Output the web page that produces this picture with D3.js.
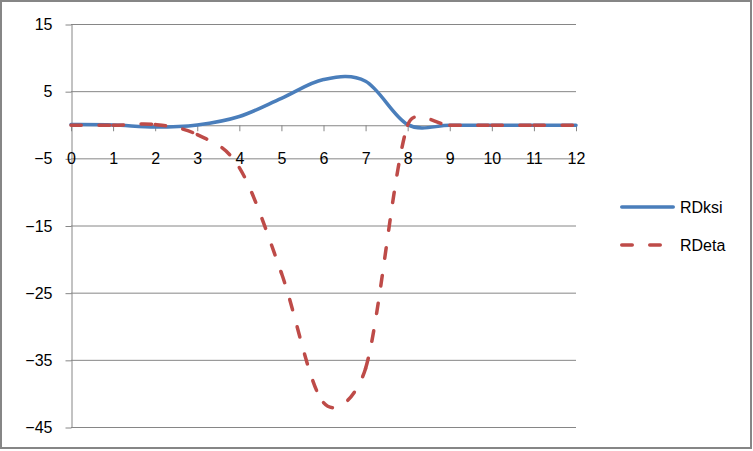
<!DOCTYPE html>
<html><head><meta charset="utf-8">
<script src="https://cdn.jsdelivr.net/npm/d3@7"></script>
<style>
body{margin:0;background:#fff}
svg{display:block}
text{font-family:"Liberation Sans",Arial,sans-serif;font-size:16px;fill:#000}
</style>
</head><body>
<svg id="c" width="753" height="451"></svg>
<script>
const xValues = [0,1,2,3,4,5,6,7,8,9,10,11,12];
const rdksi   = [0.1,0.05,-0.25,0.05,1.3,4.0,6.8,6.55,0.1,0,0,0,0];
const rdeta   = [0,0,0.1,-1.4,-6.3,-22.0,-41.3,-36.2,0,0,0,0,0];
const yTicks  = [15,5,-5,-15,-25,-35,-45];
const xTicks  = [0,1,2,3,4,5,6,7,8,9,10,11,12];
const seriesNames  = ["RDksi","RDeta"];
const seriesColors = ["#4A7EBB","#BE4B48"];

const svg = d3.select("#c");
const grid = "#868686";

// outer border
svg.append("rect").attr("x",1).attr("y",1).attr("width",750).attr("height",447)
  .attr("fill","#fff").attr("stroke",grid).attr("stroke-width",2);

const x = d3.scaleLinear().domain([0,12]).range([71,576]);
const y = d3.scaleLinear().domain([-45,15]).range([427.5,24.5]);

// horizontal gridlines
svg.append("g").selectAll("line").data(yTicks).join("line")
  .attr("x1",71).attr("x2",576)
  .attr("y1",d=>y(d)).attr("y2",d=>y(d))
  .attr("stroke",grid).attr("stroke-width",1);

// y axis
const yAxis = svg.append("g").attr("transform","translate(71.5,0)")
  .call(d3.axisLeft(y).tickValues(yTicks).tickSize(6).tickPadding(13).tickSizeOuter(0));
yAxis.select(".domain").attr("stroke",grid);
yAxis.selectAll(".tick line").attr("stroke",grid);
yAxis.selectAll("text").style("font-family","Liberation Sans, Arial, sans-serif").style("font-size","16px").attr("fill","#000");

// x axis at y = 0
const xAxis = svg.append("g").attr("transform",`translate(0,${y(0)})`)
  .call(d3.axisBottom(x).tickValues(xTicks).tickSize(6).tickPadding(21).tickSizeOuter(0));
xAxis.select(".domain").attr("stroke",grid);
xAxis.selectAll(".tick line").attr("stroke",grid);
xAxis.selectAll("text").style("font-family","Liberation Sans, Arial, sans-serif").style("font-size","16px").attr("fill","#000");

// Excel-like smoothed segments (Bezier per data segment)
function segment(p, i, ctx, move) {
  const p0 = p[Math.max(i-1,0)], p1 = p[i], p2 = p[i+1], p3 = p[Math.min(i+2,p.length-1)];
  const half = Math.hypot(p2[0]-p1[0], p2[1]-p1[1]) / 2;
  let a1 = [(p2[0]-p0[0])/6, (p2[1]-p0[1])/6];
  let a2 = [(p3[0]-p1[0])/6, (p3[1]-p1[1])/6];
  const l1 = Math.hypot(a1[0],a1[1]), l2 = Math.hypot(a2[0],a2[1]);
  if (l1 > half) a1 = a1.map(v => v*half/l1);
  if (l2 > half) a2 = a2.map(v => v*half/l2);
  if (move) ctx.moveTo(p1[0], p1[1]);
  ctx.bezierCurveTo(p1[0]+a1[0], p1[1]+a1[1], p2[0]-a2[0], p2[1]-a2[1], p2[0], p2[1]);
}

const series = [rdksi, rdeta];
series.forEach((vals, s) => {
  const pts = xValues.map((xv,i) => [x(xv), y(vals[i])]);
  const g = svg.append("g");
  if (s === 0) {
    const ctx = d3.path();
    for (let i = 0; i < pts.length-1; i++) segment(pts, i, ctx, i === 0);
    g.append("path").attr("d", ctx.toString()).attr("fill","none")
      .attr("stroke", seriesColors[s]).attr("stroke-width",3.5)
      .attr("stroke-linecap","round").attr("stroke-linejoin","round");
  } else {
    for (let i = 0; i < pts.length-1; i++) {
      const ctx = d3.path();
      segment(pts, i, ctx, true);
      g.append("path").attr("d", ctx.toString()).attr("fill","none")
        .attr("stroke", seriesColors[s]).attr("stroke-width",3.5)
        .attr("stroke-linecap","round").attr("stroke-dasharray","10.5 17.5");
    }
  }
});

// legend
const legY = [207, 245];
seriesNames.forEach((name, s) => {
  const lg = svg.append("g");
  lg.append("line").attr("x1",621.75).attr("x2",673.25).attr("y1",legY[s]).attr("y2",legY[s])
    .attr("stroke",seriesColors[s]).attr("stroke-width",3.5).attr("stroke-linecap","round")
    .attr("stroke-dasharray", s === 1 ? "10.5 17.5" : null);
  lg.append("text").attr("x",680).attr("y",legY[s]).attr("dy","0.36em").text(name);
});
</script>
</body></html>
